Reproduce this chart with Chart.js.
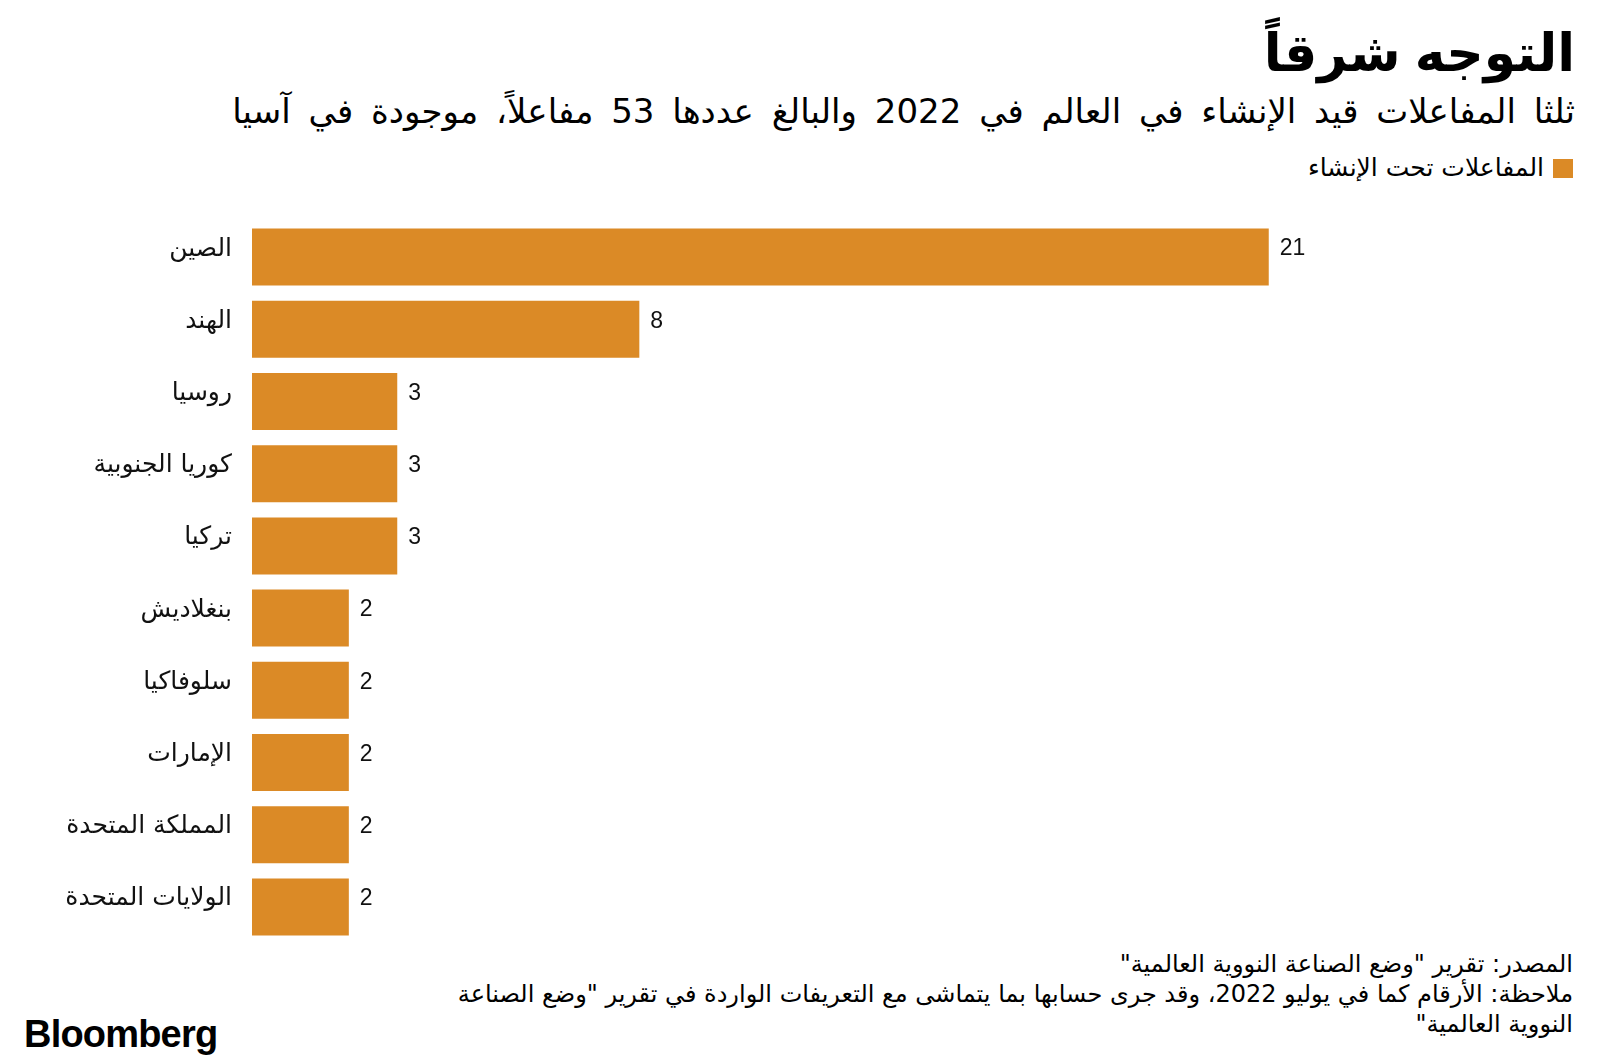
<!DOCTYPE html>
<html lang="ar">
<head>
<meta charset="utf-8">
<script src="https://cdn.jsdelivr.net/npm/chart.js@4"></script>
<style>
  html, body { margin:0; padding:0; background:#fff; }
  body { width:1600px; height:1064px; position:relative; overflow:hidden; font-family:"DejaVu Sans", sans-serif; color:#000; }
  .rtl { direction:rtl; position:absolute; right:25px; text-align:right; white-space:nowrap; }
  #title { top:20px; font-size:52px; line-height:66px; font-weight:bold; word-spacing:-4px; }
  #subtitle { top:89px; font-size:34px; line-height:44px; word-spacing:7px; }
  #legend { top:152px; right:27px; font-size:25px; line-height:32px; display:flex; align-items:center; gap:9px; }
  #legend span.sw { display:inline-block; width:20px; height:19px; background:#DB8A26; }
  #footer { top:949px; right:27px; font-size:24px; line-height:30px; }
  #logo { position:absolute; left:24px; top:1012px; font-family:"Liberation Sans", Arial, sans-serif; font-weight:bold; font-size:38px; letter-spacing:-0.8px; line-height:44px; }
  #c { position:absolute; left:0; top:0; }
</style>
</head>
<body>
<div id="title" class="rtl">التوجه شرقاً</div>
<div id="subtitle" class="rtl">ثلثا المفاعلات قيد الإنشاء في العالم في 2022 والبالغ عددها 53 مفاعلاً، موجودة في آسيا</div>
<div id="legend" class="rtl"><span class="sw"></span><span>المفاعلات تحت الإنشاء</span></div>
<div id="footer" class="rtl">المصدر: تقرير "وضع الصناعة النووية العالمية"<br>ملاحظة: الأرقام كما في يوليو 2022، وقد جرى حسابها بما يتماشى مع التعريفات الواردة في تقرير "وضع الصناعة<br>النووية العالمية"</div>
<div id="logo">Bloomberg</div>
<canvas id="c" width="1600" height="1064"></canvas>
<script>
const countries = ["الصين","الهند","روسيا","كوريا الجنوبية","تركيا","بنغلاديش","سلوفاكيا","الإمارات","المملكة المتحدة","الولايات المتحدة"];
const reactors = [21, 8, 3, 3, 3, 2, 2, 2, 2, 2];
const seriesName = "المفاعلات تحت الإنشاء";
const barColor = "#DB8A26";
const xMax = 24;

const valueLabels = {
  id: 'valueLabels',
  afterDatasetsDraw(chart) {
    const ctx = chart.ctx;
    const meta = chart.getDatasetMeta(0);
    ctx.save();
    ctx.font = '23px "Liberation Sans", Arial, sans-serif';
    ctx.fillStyle = '#111';
    ctx.textAlign = 'left';
    ctx.textBaseline = 'middle';
    meta.data.forEach((bar, i) => {
      ctx.fillText(String(reactors[i]), bar.x + 11, bar.y - 8);
    });
    ctx.restore();
  }
};

new Chart(document.getElementById('c'), {
  type: 'bar',
  data: {
    labels: countries,
    datasets: [{
      label: seriesName,
      data: reactors,
      backgroundColor: barColor,
      borderWidth: 0,
      categoryPercentage: 1,
      barPercentage: 0.79
    }]
  },
  options: {
    indexAxis: 'y',
    responsive: false,
    animation: false,
    devicePixelRatio: 1,
    layout: { padding: { left: 0, right: 186, top: 221, bottom: 121 } },
    plugins: { legend: { display: false }, tooltip: { enabled: false } },
    scales: {
      x: { display: false, min: 0, max: xMax },
      y: {
        grid: { display: false, drawTicks: false },
        border: { display: false },
        afterFit(scale) { scale.width = 252; },
        ticks: {
          padding: 20,
          labelOffset: -8,
          color: '#111',
          font: { family: '"DejaVu Sans", sans-serif', size: 25 }
        }
      }
    }
  },
  plugins: [valueLabels]
});
</script>
</body>
</html>
